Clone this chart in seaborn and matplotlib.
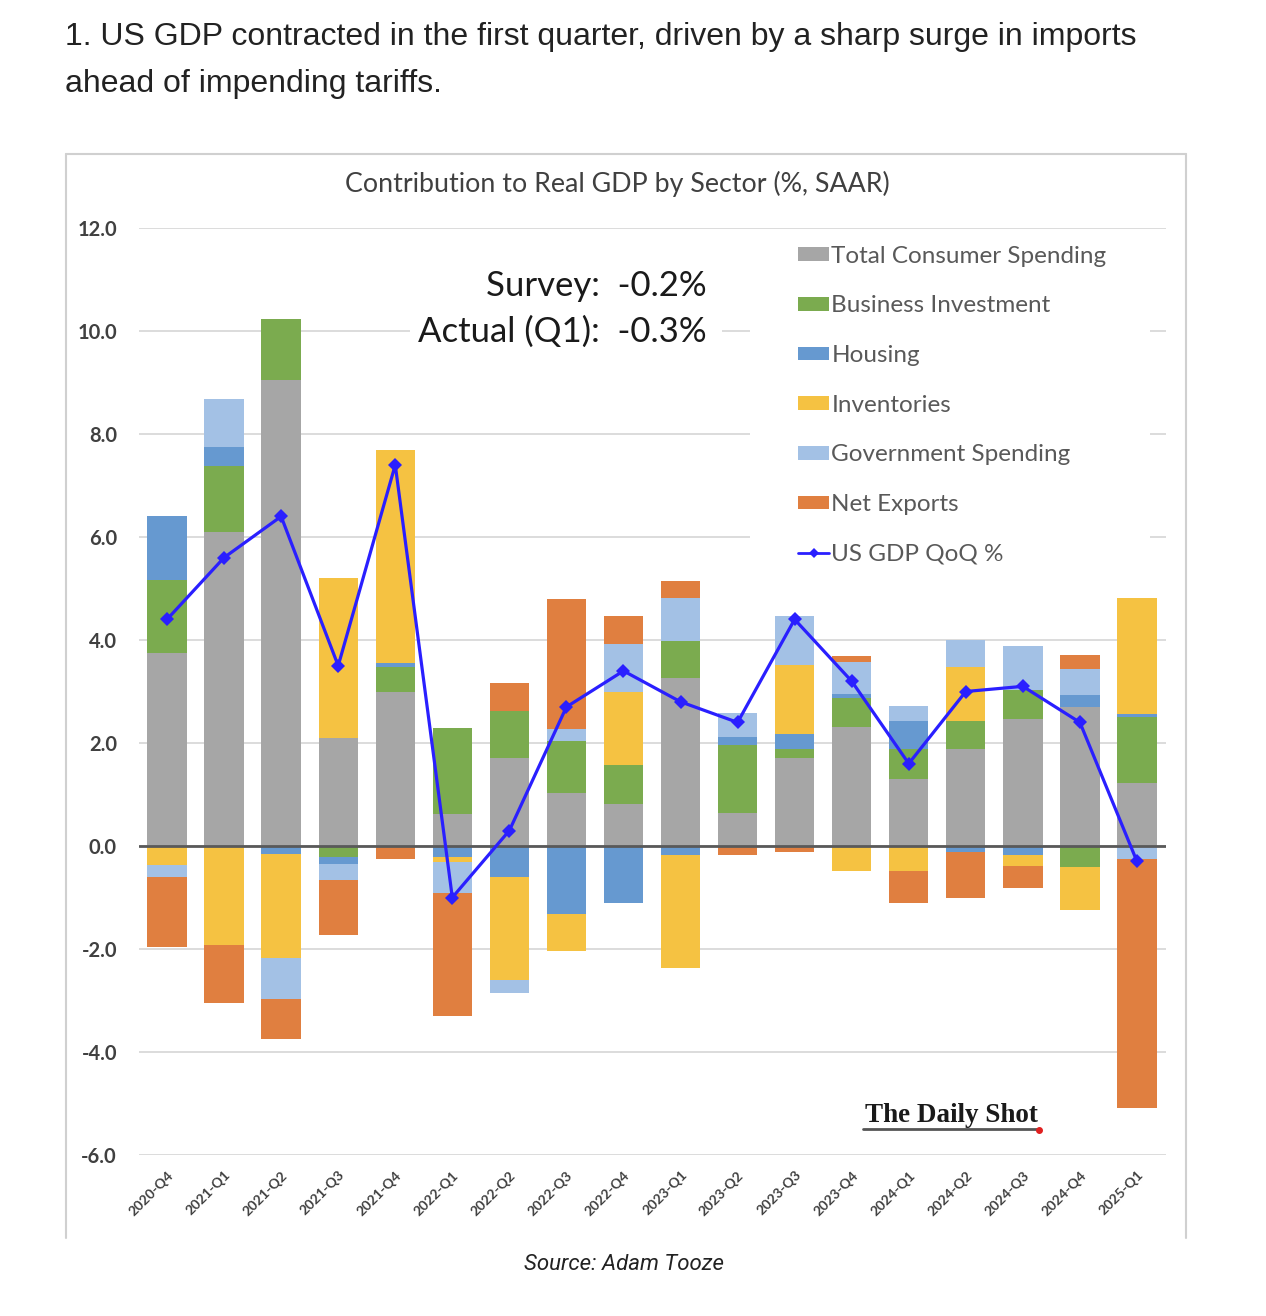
import numpy as np
import pandas as pd
import matplotlib
matplotlib.use("Agg")
import matplotlib.pyplot as plt
import seaborn as sns
from matplotlib.lines import Line2D
from matplotlib.patches import Patch, Rectangle

# Contribution to real GDP by sector (%, SAAR)
quarters = ["2020-Q4", "2021-Q1", "2021-Q2", "2021-Q3", "2021-Q4", "2022-Q1",
            "2022-Q2", "2022-Q3", "2022-Q4", "2023-Q1", "2023-Q2", "2023-Q3",
            "2023-Q4", "2024-Q1", "2024-Q2", "2024-Q3", "2024-Q4", "2025-Q1"]
consumer = [3.75, 6.10, 9.05, 2.09, 3.00, 0.62, 1.70, 1.02, 0.81, 3.27, 0.65, 1.70,
            2.32, 1.30, 1.88, 2.47, 2.69, 1.22]
business = [1.42, 1.27, 1.18, -0.21, 0.48, 1.67, 0.92, 1.02, 0.77, 0.71, 1.31, 0.18,
            0.56, 0.58, 0.55, 0.56, -0.41, 1.28]
housing = [1.24, 0.38, -0.16, -0.14, 0.08, -0.21, -0.60, -1.33, -1.11, -0.17, 0.16, 0.29,
           0.08, 0.55, -0.11, -0.17, 0.24, 0.06]
inventories = [-0.36, -1.92, -2.01, 3.12, 4.12, -0.11, -2.00, -0.70, 1.42, -2.19, 0.00, 1.35,
               -0.48, -0.48, 1.05, -0.22, -0.83, 2.25]
government = [-0.25, 0.93, -0.80, -0.31, 0.00, -0.60, -0.26, 0.24, 0.92, 0.83, 0.47, 0.95,
              0.62, 0.29, 0.52, 0.85, 0.50, -0.26]
net_exports = [-1.36, -1.12, -0.78, -1.07, -0.25, -2.38, 0.54, 2.51, 0.55, 0.34, -0.17, -0.11,
               0.10, -0.62, -0.89, -0.42, 0.27, -4.82]
gdp_qoq = [4.4, 5.6, 6.4, 3.5, 7.4, -1.0, 0.3, 2.7, 3.4, 2.8, 2.4, 4.4,
           3.2, 1.6, 3.0, 3.1, 2.4, -0.3]

sectors = [
    ("Total Consumer Spending", consumer, "#a6a6a6"),
    ("Business Investment", business, "#7bab4f"),
    ("Housing", housing, "#6699d0"),
    ("Inventories", inventories, "#f5c242"),
    ("Government Spending", government, "#a3c1e5"),
    ("Net Exports", net_exports, "#e07f40"),
]
line_color = "#2a1fff"

sns.set_theme(style="white")
plt.rcParams["font.family"] = ["Lato", "DejaVu Sans"]

W, H = 1266, 1316
fig = plt.figure(figsize=(W / 100, H / 100), dpi=100)
ax = fig.add_axes([138.5 / W, 1 - 1155 / H, 1027 / W, 927 / H])

# stacked bars, positives and negatives stacked separately (Excel style)
x = np.arange(len(quarters))
pos_bottom = np.zeros(len(quarters))
neg_bottom = np.zeros(len(quarters))
for label, vals, color in sectors:
    v = np.array(vals)
    bottom = np.where(v >= 0, pos_bottom, neg_bottom)
    ax.bar(x, v, bottom=bottom, width=0.69, color=color, linewidth=0, zorder=2)
    pos_bottom += np.clip(v, 0, None)
    neg_bottom += np.clip(v, None, 0)

df_line = pd.DataFrame({"x": x, "gdp": gdp_qoq})
sns.lineplot(data=df_line, x="x", y="gdp", ax=ax, color=line_color, lw=2.3,
             marker="D", markersize=7, markeredgewidth=0, zorder=4, legend=False)

ax.axhline(0, color="#595959", lw=2, zorder=3)

ticks = np.arange(-6, 13, 2)
ax.set_ylim(-6, 12)
ax.set_xlim(-0.5, len(quarters) - 0.5)
ax.set_yticks(ticks)
ax.set_yticklabels([f"{t:.1f}" for t in ticks])
ax.yaxis.grid(True, color="#dcdcdc", lw=1.4)
ax.set_axisbelow(True)
ax.set_xticks(x)
ax.set_xticklabels(quarters, rotation=45, ha="right", rotation_mode="anchor")
ax.tick_params(axis="y", length=0, pad=15.5, labelsize=14.5, labelcolor="#404040")
ax.tick_params(axis="x", length=0, pad=10, labelsize=10, labelcolor="#404040")
for lab in ax.get_yticklabels() + ax.get_xticklabels():
    lab.set_fontweight("bold")
ax.set_xlabel("")
ax.set_ylabel("")
for s in ax.spines.values():
    s.set_visible(False)

# white backing behind legend and annotation (breaks the gridlines like the original)
ax.add_patch(Rectangle((750 / W, 1 - 566 / H), 400 / W, 332 / H, transform=fig.transFigure,
                       facecolor="white", edgecolor="none", zorder=1))
ax.add_patch(Rectangle((410 / W, 1 - 355 / H), 312 / W, 100 / H, transform=fig.transFigure,
                       facecolor="white", edgecolor="none", zorder=1))

# legend
handles = [Patch(facecolor=c, edgecolor="none") for _, _, c in sectors]
handles.append(Line2D([0], [0], color=line_color, lw=2, marker="D", markersize=5,
                      markeredgewidth=0))
labels = [name for name, _, _ in sectors] + ["US GDP QoQ %"]
ax.legend(handles, labels, loc="upper left", bbox_to_anchor=(788 / W, 1 - 236 / H),
          bbox_transform=fig.transFigure, frameon=False, fontsize=17.5,
          labelcolor="#595959", handlelength=1.3, handleheight=0.5, handletextpad=0.08,
          labelspacing=1.18, borderpad=0.4, borderaxespad=0)

# survey / actual annotation
fig.text(707 / W, 1 - 296 / H, "Survey:  -0.2%", ha="right", va="baseline",
         fontsize=25, color="#1a1a1a")
fig.text(707 / W, 1 - 342 / H, "Actual (Q1):  -0.3%", ha="right", va="baseline",
         fontsize=25, color="#1a1a1a")

# chart title and outer chart frame
fig.text(617 / W, 1 - 184 / H, "Contribution to Real GDP by Sector (%, SAAR)",
         ha="center", va="center", fontsize=19.3, color="#404040")
frame = dict(color="#d0d0d0", lw=1.5, transform=fig.transFigure)
fig.add_artist(Line2D([66 / W, 66 / W], [1 - 154 / H, 1 - 1238 / H], **frame))
fig.add_artist(Line2D([66 / W, 1186 / W], [1 - 154 / H, 1 - 154 / H], **frame))
fig.add_artist(Line2D([1186 / W, 1186 / W], [1 - 154 / H, 1 - 1238 / H], **frame))

# Daily Shot logo
fig.text(951 / W, 1 - 1115 / H, "The Daily Shot", ha="center", va="center",
         family="Liberation Serif", fontweight="bold", fontsize=19.5, color="#1a1a1a")
fig.add_artist(Line2D([863 / W, 1038 / W], [1 - 1129 / H, 1 - 1129 / H],
                      color="#555555", lw=2, transform=fig.transFigure))
fig.add_artist(Line2D([1039 / W], [1 - 1130 / H], color="#e02020", marker="o",
                      markersize=4, lw=0, transform=fig.transFigure))

# page headline and source
fig.text(65 / W, 1 - 45 / H,
         "1. US GDP contracted in the first quarter, driven by a sharp surge in imports",
         ha="left", va="baseline", family="Liberation Sans", fontsize=23, color="#222222")
fig.text(65 / W, 1 - 92 / H, "ahead of impending tariffs.", ha="left", va="baseline",
         family="Liberation Sans", fontsize=23, color="#222222")
fig.text(624 / W, 1 - 1265 / H, "Source: Adam Tooze", ha="center", va="center",
         family=["Liberation Sans Narrow", "Roboto", "DejaVu Sans"], style="italic",
         fontsize=16, color="#222222")

fig.savefig("out.png", dpi=100)
